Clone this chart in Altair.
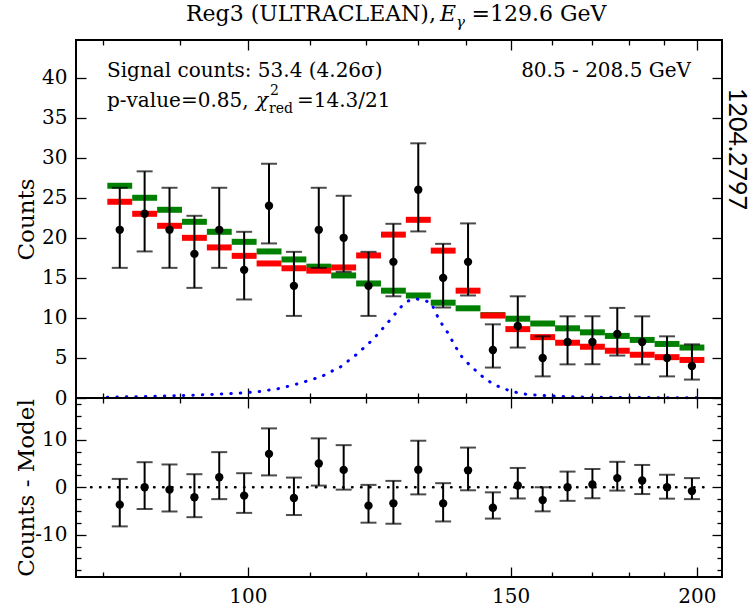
import altair as alt
import pandas as pd

# ---------------- data ----------------
bin_lo = [80.5, 83.65, 86.93, 90.33, 93.87, 97.54, 101.36, 105.33, 109.45, 113.73, 118.19, 122.81,
          127.62, 132.62, 137.81, 143.20, 148.81, 154.63, 160.69, 166.98, 173.51, 180.31, 187.37, 194.70]
bin_hi = [83.65, 86.93, 90.33, 93.87, 97.54, 101.36, 105.33, 109.45, 113.73, 118.19, 122.81, 127.62,
          132.62, 137.81, 143.20, 148.81, 154.63, 160.69, 166.98, 173.51, 180.31, 187.37, 194.70, 202.32]
bin_c = [82.06, 85.27, 88.61, 92.08, 95.68, 99.43, 103.32, 107.37, 111.57, 115.94, 120.47, 125.19,
         130.09, 135.18, 140.48, 145.97, 151.69, 157.63, 163.80, 170.21, 176.87, 183.80, 190.99, 198.47]
counts = [21, 23, 21, 18, 21, 16, 24, 14, 21, 20, 14, 17, 26, 15, 17, 6, 9, 5, 7, 7, 8, 7, 5, 4]
err_lo = [16.25, 18.3, 16.25, 13.75, 16.25, 12.3, 19.3, 10.25, 16.25, 15.75, 10.25, 12.7,
          20.8, 11.3, 12.8, 3.8, 6.3, 2.7, 4.2, 4.2, 5.3, 4.2, 2.7, 2.3]
err_hi = [26.25, 28.3, 26.25, 22.75, 26.25, 20.75, 29.25, 18.25, 26.25, 25.25, 18.25, 21.75,
          31.8, 19.25, 21.8, 9.2, 12.7, 7.7, 10.2, 10.2, 11.25, 10.2, 7.7, 6.7]
bkg = [26.5, 25.0, 23.5, 22.0, 20.75, 19.5, 18.3, 17.3, 16.4, 15.3, 14.3, 13.4,
       12.8, 11.9, 11.2, 10.35, 9.9, 9.3, 8.7, 8.2, 7.75, 7.25, 6.75, 6.3]
model = [24.5, 23.0, 21.5, 20.0, 18.8, 17.75, 16.8, 16.2, 15.9, 16.3, 17.8, 20.4,
         22.25, 18.4, 13.4, 10.3, 8.6, 7.6, 6.9, 6.4, 5.9, 5.4, 5.1, 4.75]
resid = [-3.66, 0.0, -0.5, -2.1, 2.1, -1.76, 7.04, -2.25, 5.0, 3.66, -3.87, -3.38,
         3.7, -3.4, 3.57, -4.3, 0.36, -2.7, 0.0, 0.57, 1.93, 1.43, 0.0, -0.8]
resid_lo = [-8.24, -4.58, -5.1, -6.3, -2.5, -5.4, 2.5, -5.85, 0.35, -0.5, -7.46, -7.68,
            -1.5, -7.2, -0.64, -6.6, -2.36, -5.07, -2.86, -2.3, -0.7, -1.43, -2.4, -2.5]
resid_hi = [1.76, 5.28, 4.8, 2.75, 7.4, 2.96, 12.4, 2.04, 10.3, 8.87, 0.5, 1.34,
            9.8, 0.86, 8.36, -1.07, 4.07, 0.0, 3.3, 3.86, 5.36, 4.7, 2.64, 1.93]
sig_x = [80.5, 86, 92, 98.3, 101.6, 105.1, 108.3, 112.0, 115.4, 118.2, 121.3, 124.1, 126.7, 128.0,
         129.5, 131.2, 132.7, 134.4, 136.1, 137.9, 139.3, 140.7, 142.4, 144.2, 146.3, 148.2, 150.5,
         153.2, 155.6, 158.5, 163, 170, 180, 192, 202.3]
sig_y = [0.1, 0.2, 0.35, 0.58, 0.79, 1.2, 1.83, 2.67, 3.9, 5.4, 7.3, 9.4, 11.4, 12.1,
         12.4, 12.2, 11.9, 9.7, 8.2, 6.3, 5.0, 4.2, 3.3, 2.4, 1.67, 1.2, 0.8,
         0.5, 0.38, 0.29, 0.18, 0.1, 0.06, 0.04, 0.03]
zero_x = [78.5, 202.5]
zero_y = [0, 0]

x_ticks = [80, 90, 100, 110, 120, 130, 140, 150, 160, 170, 180, 190, 200]
x_labels = [100, 150, 200]
y1_ticks = [0, 5, 10, 15, 20, 25, 30, 35, 40]
y2_ticks = [-17.5, -15, -12.5, -10, -7.5, -5, -2.5, 0, 2.5, 5, 7.5, 10, 12.5, 15, 17.5]
y2_labels = [-10, 0, 10]

# ---------------- layout / style ----------------
W, H1, H2 = 646, 358, 179
FONT = "DejaVu Serif"
GREEN = "#008000"
RED = "#ff0000"
BLUE = "#0000ff"

df = pd.DataFrame(dict(lo=bin_lo, hi=bin_hi, c=bin_c, n=counts, elo=err_lo, ehi=err_hi,
                       bkg=bkg, model=model, r=resid, rlo=resid_lo, rhi=resid_hi))
sig = pd.DataFrame(dict(x=sig_x, y=sig_y))
zero = pd.DataFrame(dict(x=zero_x, y=zero_y))

xs = alt.Scale(type="log", domain=[76.7, 207.9], nice=False, zero=False)
ys1 = alt.Scale(domain=[0, 44.7], nice=False, zero=False)
ys2 = alt.Scale(domain=[-18.9, 18.8], nice=False, zero=False)

XMAJ = "indexof([100,150,200], datum.value) >= 0"
YMAJ2 = "indexof([-10,0,10], datum.value) >= 0"
LABEL_EXPR = "datum.value < 0 ? '-' + format(-datum.value, 'd') : format(datum.value, 'd')"


def tick_axis(orient, offset, values, major_test=None, size=10):
    ts = size if major_test is None else {"condition": {"test": major_test, "value": 10}, "value": 5}
    return alt.Axis(orient=orient, offset=offset, values=values, labels=False, domain=False,
                    grid=False, title=None, tickSize=ts, tickWidth=1.3, tickColor="black")


def label_x_axis():
    return alt.Axis(orient="bottom", values=x_labels, ticks=False, domain=False, grid=False,
                    title=None, labelPadding=9, labelFontSize=20, labelFont=FONT,
                    labelColor="black")


def label_y_axis(title, values, H):
    return alt.Axis(orient="left", values=values, ticks=False, domain=False, grid=False,
                    title=title, labelPadding=9, labelFontSize=20, labelFont=FONT,
                    labelColor="black", titleFont=FONT, titleFontSize=23, titleFontWeight="normal",
                    titleColor="black", titleX=-50, titleY=H / 2, titleAngle=-90,
                    titleAlign="center", titleBaseline="middle", labelExpr=LABEL_EXPR)


base = alt.Chart(df)

# ---------------- top panel ----------------
green = base.mark_rule(color=GREEN, strokeWidth=6, strokeCap="butt").encode(
    x=alt.X("lo:Q", scale=xs, axis=tick_axis("top", -H1, x_ticks, XMAJ)),
    x2="hi:Q",
    y=alt.Y("bkg:Q", scale=ys1, axis=label_y_axis("Counts", y1_ticks, H1)),
)
red = base.mark_rule(color=RED, strokeWidth=6, strokeCap="butt").encode(
    x=alt.X("lo:Q", scale=xs, axis=tick_axis("bottom", -H1, x_ticks, XMAJ)),
    x2="hi:Q",
    y=alt.Y("model:Q", scale=ys1, axis=tick_axis("right", -W, y1_ticks)),
)
signal = alt.Chart(sig).mark_line(color=BLUE, strokeWidth=3, strokeDash=[0.5, 9],
                                  strokeCap="round").encode(
    x=alt.X("x:Q", scale=xs, axis=None),
    y=alt.Y("y:Q", scale=ys1, axis=tick_axis("left", -W, y1_ticks)),
)
ebar = base.mark_rule(color="black", strokeWidth=2).encode(
    x=alt.X("c:Q", scale=xs, axis=None),
    y=alt.Y("elo:Q", scale=ys1, axis=None),
    y2="ehi:Q",
)
cap_lo = base.mark_tick(color="black", orient="horizontal", size=16, thickness=2).encode(
    x=alt.X("c:Q", scale=xs, axis=None), y=alt.Y("elo:Q", scale=ys1, axis=None))
cap_hi = base.mark_tick(color="black", orient="horizontal", size=16, thickness=2).encode(
    x=alt.X("c:Q", scale=xs, axis=None), y=alt.Y("ehi:Q", scale=ys1, axis=None))
pts = base.mark_circle(color="black", size=70, opacity=1).encode(
    x=alt.X("c:Q", scale=xs, axis=None), y=alt.Y("n:Q", scale=ys1, axis=None))


def txt(s, x, y, size=20, align="left", style="normal", angle=0, font=FONT, baseline="alphabetic"):
    return alt.Chart(pd.DataFrame({"t": [s]})).mark_text(
        font=font, fontSize=size, align=align, baseline=baseline, fontStyle=style,
        color="black", angle=angle).encode(text="t:N", x=alt.value(x), y=alt.value(y))


texts = [
    txt("Reg3 (ULTRACLEAN),", 110, -19, size=22),
    txt("E", 364, -19, size=22, style="italic"),
    txt("γ", 380, -13, size=15, style="italic"),
    txt("=129.6 GeV", 395.5, -19, size=22),
    txt("Signal counts: 53.4 (4.26σ)", 31, 37),
    txt("80.5 - 208.5 GeV", 615, 37, align="right"),
    txt("p-value=0.85,", 31, 67),
    txt("χ", 180, 67, style="italic"),
    txt("2", 194, 55, size=14),
    txt("red", 193, 73, size=14),
    txt("=14.3/21", 221, 67),
    txt("1204.2797", 661, 109, size=25, align="center", angle=90, font="Lato", baseline="middle"),
]

top = alt.layer(green, red, signal, ebar, cap_lo, cap_hi, pts, *texts).resolve_axis(
    x="independent", y="independent").properties(width=W, height=H1)

# ---------------- bottom panel ----------------
zl = alt.Chart(zero).mark_line(color="black", strokeWidth=2.5, strokeDash=[0.5, 8.5],
                               strokeCap="round").encode(
    x=alt.X("x:Q", scale=xs, axis=tick_axis("top", -H2, x_ticks, XMAJ)),
    y=alt.Y("y:Q", scale=ys2, axis=label_y_axis("Counts - Model", y2_labels, H2)),
)
rbar = base.mark_rule(color="black", strokeWidth=2).encode(
    x=alt.X("c:Q", scale=xs, axis=tick_axis("bottom", -H2, x_ticks, XMAJ)),
    y=alt.Y("rlo:Q", scale=ys2, axis=tick_axis("right", -W, y2_ticks, YMAJ2)),
    y2="rhi:Q",
)
rcap_lo = base.mark_tick(color="black", orient="horizontal", size=16, thickness=2).encode(
    x=alt.X("c:Q", scale=xs, axis=label_x_axis()),
    y=alt.Y("rlo:Q", scale=ys2, axis=tick_axis("left", -W, y2_ticks, YMAJ2)))
rcap_hi = base.mark_tick(color="black", orient="horizontal", size=16, thickness=2).encode(
    x=alt.X("c:Q", scale=xs, axis=None), y=alt.Y("rhi:Q", scale=ys2, axis=None))
rpts = base.mark_circle(color="black", size=70, opacity=1).encode(
    x=alt.X("c:Q", scale=xs, axis=None), y=alt.Y("r:Q", scale=ys2, axis=None))

bottom = alt.layer(zl, rbar, rcap_lo, rcap_hi, rpts).resolve_axis(
    x="independent", y="independent").properties(width=W, height=H2)

chart = alt.vconcat(top, bottom, spacing=0, bounds="flush").properties(
    padding={"left": 13, "top": 2, "right": 0, "bottom": 0},
).configure_view(stroke="black", strokeWidth=2).configure_axis(
    labelFont=FONT, titleFont=FONT)

chart.save("out.html", embed_options={"renderer": "svg", "actions": False})
